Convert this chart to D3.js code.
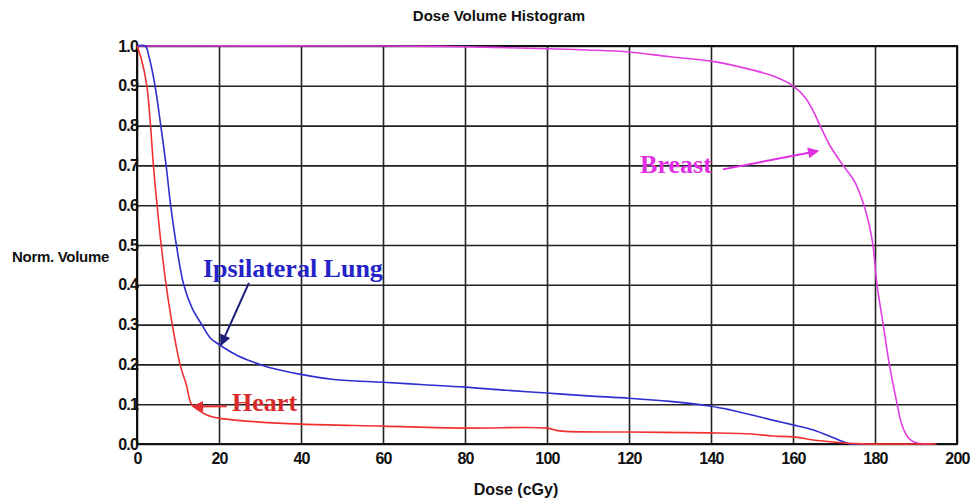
<!DOCTYPE html>
<html>
<head>
<meta charset="utf-8">
<script src="https://cdn.jsdelivr.net/npm/d3@7"></script>
<style>
  body { margin: 0; background: #fff; }
  svg text { font-family: "Liberation Sans", Arial, sans-serif; }
  .note { font-family: "Liberation Serif", "Times New Roman", serif; font-weight: bold; }
</style>
</head>
<body>
<div id="chart"></div>
<script>

// dose (cGy) / normalised volume
const breastDose = [0, 60, 80, 100, 110, 120, 130, 140, 150, 155, 160, 163, 165, 166.6, 169, 172.2, 175, 177.3, 178.6, 179.5, 180.5, 182, 183.5, 185.4, 186.5, 187.8, 189, 190.5, 194];
const breastVol  = [1, 1, 0.998, 0.993, 0.99, 0.985, 0.973, 0.962, 0.94, 0.925, 0.9, 0.87, 0.835, 0.8, 0.75, 0.7, 0.66, 0.6, 0.55, 0.5, 0.4, 0.3, 0.2, 0.1, 0.05, 0.02, 0.008, 0.002, 0];

const lungDose = [0, 2, 3, 4.4, 5.8, 7.1, 8.2, 9.6, 11.4, 13.5, 15.8, 18, 20, 24, 28, 32, 40, 48, 60, 70, 80, 90, 100, 110, 120, 130, 140, 145, 150, 155, 160, 165, 170, 173, 174, 178];
const lungVol  = [1, 1, 0.97, 0.9, 0.8, 0.7, 0.6, 0.5, 0.4, 0.34, 0.3, 0.265, 0.25, 0.225, 0.207, 0.193, 0.175, 0.162, 0.155, 0.149, 0.143, 0.135, 0.128, 0.121, 0.115, 0.107, 0.095, 0.085, 0.073, 0.06, 0.048, 0.035, 0.015, 0.003, 0, 0];

const heartDose = [0, 1, 2.4, 3.3, 4, 4.9, 5.9, 7.1, 8.6, 10.5, 12, 13.3, 15, 17, 20, 30, 40, 60, 80, 100, 103, 120, 140, 150, 155, 160, 165, 170, 175, 195];
const heartVol  = [1, 0.97, 0.9, 0.8, 0.7, 0.6, 0.5, 0.4, 0.3, 0.2, 0.15, 0.1, 0.085, 0.073, 0.065, 0.055, 0.05, 0.045, 0.04, 0.04, 0.033, 0.03, 0.028, 0.025, 0.02, 0.018, 0.01, 0.005, 0.001, 0];

const xTicks = [0, 20, 40, 60, 80, 100, 120, 140, 160, 180, 200];
const yTicks = [0, 0.1, 0.2, 0.3, 0.4, 0.5, 0.6, 0.7, 0.8, 0.9, 1.0];

// label text, anchor point and arrow (dose, volume)
const noteNames = ["Breast", "Ipsilateral Lung", "Heart"];
const noteAt    = [[122.7, 0.68], [16.1, 0.42], [23.2, 0.083]];
const arrowFrom = [[142.9, 0.69], [27.3, 0.405], [21.9, 0.095]];
const arrowTo   = [[166.1, 0.736], [20.5, 0.249], [13.7, 0.094]];

const width = 972, height = 499;
const margin = {top: 46, right: 15, bottom: 55, left: 137};
const w = width - margin.left - margin.right;
const h = height - margin.top - margin.bottom;

const svg = d3.select("#chart").append("svg")
    .attr("width", width)
    .attr("height", height);

const g = svg.append("g")
    .attr("transform", `translate(${margin.left},${margin.top})`);

const x = d3.scaleLinear().domain([0, 200]).range([0, w]);
const y = d3.scaleLinear().domain([0, 1]).range([h, 0]);

// grid
g.append("g")
    .attr("class", "grid")
    .call(d3.axisBottom(x).tickValues(xTicks).tickSize(h).tickFormat(""))
    .call(a => a.select(".domain").remove())
    .selectAll("line").attr("stroke", "#222").attr("stroke-width", 1.6);

g.append("g")
    .attr("class", "grid")
    .call(d3.axisLeft(y).tickValues(yTicks).tickSize(-w).tickFormat(""))
    .call(a => a.select(".domain").remove())
    .selectAll("line").attr("stroke", "#222").attr("stroke-width", 1.6);

g.append("rect")
    .attr("width", w)
    .attr("height", h)
    .attr("fill", "none")
    .attr("stroke", "#111")
    .attr("stroke-width", 2);

// tick labels
g.append("g")
    .attr("transform", `translate(0,${h})`)
    .call(d3.axisBottom(x).tickValues(xTicks).tickSize(0).tickPadding(9))
    .call(a => a.select(".domain").remove())
    .selectAll("text")
    .attr("font-size", 16)
    .attr("font-weight", "bold")
    .attr("letter-spacing", -0.8)
    .attr("fill", "#111");

g.append("g")
    .call(d3.axisLeft(y).tickValues(yTicks).tickSize(0).tickPadding(-1).tickFormat(d3.format(".1f")))
    .call(a => a.select(".domain").remove())
    .selectAll("text")
    .attr("font-size", 16)
    .attr("font-weight", "bold")
    .attr("letter-spacing", -0.8)
    .attr("fill", "#111");

// titles
svg.append("text")
    .attr("x", 499)
    .attr("y", 21)
    .attr("text-anchor", "middle")
    .attr("font-size", 15)
    .attr("font-weight", "bold")
    .attr("fill", "#111")
    .text("Dose Volume Histogram");

svg.append("text")
    .attr("x", 12)
    .attr("y", 262)
    .attr("font-size", 15)
    .attr("font-weight", "bold")
    .attr("letter-spacing", -0.3)
    .attr("fill", "#111")
    .text("Norm. Volume");

svg.append("text")
    .attr("x", 516)
    .attr("y", 495)
    .attr("text-anchor", "middle")
    .attr("font-size", 16)
    .attr("font-weight", "bold")
    .attr("fill", "#111")
    .text("Dose (cGy)");

// curves
const line = d3.line()
    .x(d => x(d[0]))
    .y(d => y(d[1]))
    .curve(d3.curveCatmullRom.alpha(0.5));

const series = [
    {name: "Breast", dose: breastDose, vol: breastVol, color: "#e23de2"},
    {name: "Lung", dose: lungDose, vol: lungVol, color: "#2f2fd0"},
    {name: "Heart", dose: heartDose, vol: heartVol, color: "#f03030"}
];

series.forEach(s => {
    g.append("path")
        .datum(d3.zip(s.dose, s.vol))
        .attr("fill", "none")
        .attr("stroke", s.color)
        .attr("stroke-width", 1.6)
        .attr("d", line);
});

// annotations
const noteColors  = ["#e22ee2", "#2323c8", "#d82a2a"];
const arrowColors = ["#e22ee2", "#1c1c78", "#e23030"];

const defs = svg.append("defs");
arrowColors.forEach((c, i) => {
    defs.append("marker")
        .attr("id", "head" + i)
        .attr("viewBox", "0 0 10 10")
        .attr("refX", 9)
        .attr("refY", 5)
        .attr("markerUnits", "userSpaceOnUse")
        .attr("markerWidth", 13)
        .attr("markerHeight", 11)
        .attr("orient", "auto")
        .append("path")
        .attr("d", "M0,0L10,5L0,10Z")
        .attr("fill", c);
});

noteNames.forEach((n, i) => {
    g.append("text")
        .attr("class", "note")
        .attr("x", x(noteAt[i][0]))
        .attr("y", y(noteAt[i][1]))
        .attr("font-size", 26)
        .attr("fill", noteColors[i])
        .text(n);

    g.append("line")
        .attr("x1", x(arrowFrom[i][0]))
        .attr("y1", y(arrowFrom[i][1]))
        .attr("x2", x(arrowTo[i][0]))
        .attr("y2", y(arrowTo[i][1]))
        .attr("stroke", arrowColors[i])
        .attr("stroke-width", 2)
        .attr("marker-end", `url(#head${i})`);
});

</script>
</body>
</html>
